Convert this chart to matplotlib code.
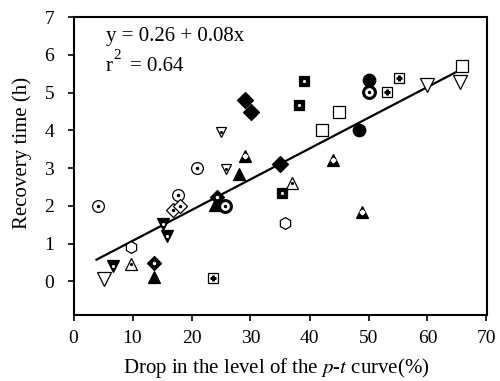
import matplotlib

matplotlib.use("Agg")

import matplotlib.pyplot as plt

plt.rcParams["font.family"] = ["Liberation Serif", "DejaVu Serif"]
plt.rcParams["mathtext.fontset"] = "stix"

# each group: x values (% drop), y values (recovery time, h)
open_dot_circle_x = [4.1, 17.7, 20.9]
open_dot_circle_y = [2.0, 2.29, 3.0]
bold_dot_circle_x = [25.6, 50.0]
bold_dot_circle_y = [2.0, 5.02]
filled_circle_x = [48.4, 50.0]
filled_circle_y = [4.0, 5.33]
open_tri_down_x = [5.2, 60.0, 65.5]
open_tri_down_y = [0.07, 5.19, 5.27]
filled_tri_down_dot_x = [6.7, 15.1, 15.9]
filled_tri_down_dot_y = [0.4, 1.53, 1.2]
open_tri_down_dot_x = [25.9, 25.0]
open_tri_down_dot_y = [2.97, 3.97]
hexagon_x = [9.7, 35.9]
hexagon_y = [0.91, 1.56]
open_tri_up_dot_x = [9.7, 37.0]
open_tri_up_dot_y = [0.45, 2.62]
filled_tri_up_x = [13.6, 28.1, 24.0]
filled_tri_up_y = [0.13, 2.84, 2.02]
filled_tri_up_plus_x = [29.0, 44.0, 48.9]
filled_tri_up_plus_y = [3.32, 3.22, 1.84]
filled_diamond_dot_x = [13.6, 24.3]
filled_diamond_dot_y = [0.49, 2.23]
open_diamond_dot_x = [16.8, 18.1]
open_diamond_dot_y = [1.89, 2.0]
filled_diamond_x = [29.0, 30.1, 35.0]
filled_diamond_y = [4.81, 4.49, 3.12]
open_square_plus_x = [23.7, 53.2, 55.1]
open_square_plus_y = [0.09, 5.01, 5.39]
filled_square_dot_x = [35.4, 38.2, 39.1]
filled_square_dot_y = [2.35, 4.68, 5.30]
open_square_x = [42.2, 45.0, 65.9]
open_square_y = [4.0, 4.49, 5.70]

fit_intercept = 0.26
fit_slope = 0.0815
fit_range = [3.9, 65.9]

fig = plt.figure(figsize=(5.0, 3.81), dpi=100)
ax = fig.add_axes([0.147, 0.174, 0.826, 0.781])

fit_y = [fit_intercept + fit_slope * v for v in fit_range]
ax.plot(fit_range, fit_y, color="black", linewidth=1.6, zorder=2)


def mark(x, y, marker, size, filled, inner=None, inner_size=2.5, lw=0.9):
    face = "black" if filled else "white"
    ax.plot(x, y, linestyle="none", marker=marker, markersize=size,
            markerfacecolor=face, markeredgecolor="black",
            markeredgewidth=lw, zorder=3)
    if inner is not None:
        c = "white" if filled else "black"
        ax.plot(x, y, linestyle="none", marker=inner, markersize=inner_size,
                color=c, markeredgecolor=c, markeredgewidth=1.0, zorder=4)


mark(open_dot_circle_x, open_dot_circle_y, "o", 8.5, False, ".", 3)
mark(bold_dot_circle_x, bold_dot_circle_y, "o", 8.5, False, ".", 3, lw=2.2)
mark(filled_circle_x, filled_circle_y, "o", 9, True)
mark(open_tri_down_x, open_tri_down_y, "v", 9.5, False)
mark(filled_tri_down_dot_x, filled_tri_down_dot_y, "v", 8.5, True, ".", 2.5)
mark(open_tri_down_dot_x, open_tri_down_dot_y, "v", 7, False, ".", 2.5)
mark(hexagon_x, hexagon_y, "h", 8.5, False)
mark(open_tri_up_dot_x, open_tri_up_dot_y, "^", 8, False, ".", 2.5)
mark(filled_tri_up_x, filled_tri_up_y, "^", 9, True)
mark(filled_tri_up_plus_x, filled_tri_up_plus_y, "^", 9, True, "P", 3)
mark(filled_diamond_dot_x, filled_diamond_dot_y, "D", 7, True, ".", 3)
mark(open_diamond_dot_x, open_diamond_dot_y, "D", 7, False, ".", 3)
mark(filled_diamond_x, filled_diamond_y, "D", 8, True)
mark(open_square_plus_x, open_square_plus_y, "s", 7, False, "P", 3.5)
mark(filled_square_dot_x, filled_square_dot_y, "s", 7.5, True, ".", 2.5)
mark(open_square_x, open_square_y, "s", 8.5, False)

ax.text(0.078, 0.935, "y = 0.26 + 0.08x", transform=ax.transAxes,
        fontsize=15, va="center")
ax.text(0.078, 0.835, "r", transform=ax.transAxes, fontsize=15, va="center")
ax.text(0.097, 0.872, "2", transform=ax.transAxes, fontsize=11, va="center")
ax.text(0.138, 0.835, "= 0.64", transform=ax.transAxes, fontsize=15,
        va="center")

ax.set_xlim(0, 70)
ax.set_ylim(-0.88, 7.0)
ax.set_xticks(range(0, 71, 10))
ax.set_yticks(range(0, 8))
ax.tick_params(direction="out", length=4, width=1.2, labelsize=14)
ax.tick_params(axis="x", pad=7)
ax.tick_params(axis="y", pad=10)
for s in ax.spines.values():
    s.set_linewidth(1.5)

ax.set_xlabel(r"Drop in the level of the $p$-$t$ curve(%)", fontsize=15)
ax.set_ylabel("Recovery time (h)", fontsize=15)
ax.xaxis.set_label_coords(0.491, -0.138)
ax.yaxis.set_label_coords(-0.1, 0.545)

fig.savefig("out.png", dpi=100)
